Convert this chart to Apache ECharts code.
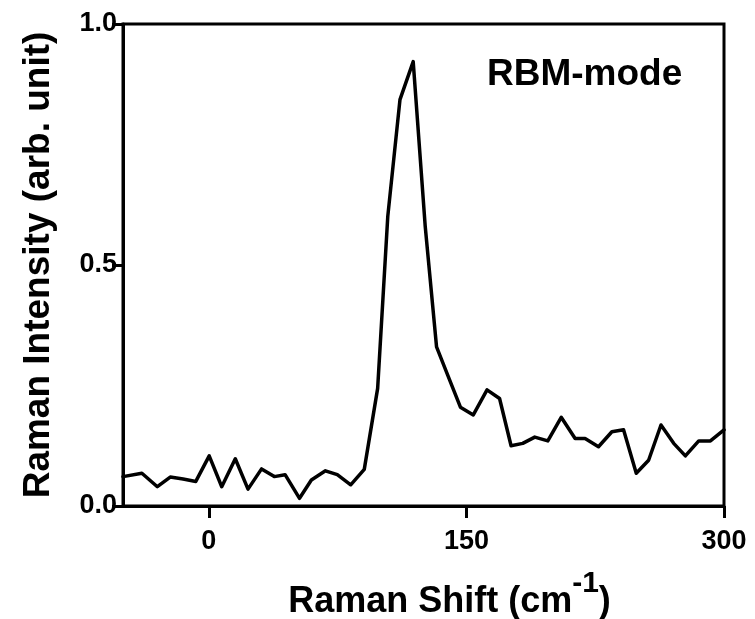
<!DOCTYPE html>
<html>
<head>
<meta charset="utf-8">
<script src="https://cdn.jsdelivr.net/npm/echarts@6/dist/echarts.min.js"></script>
<style>
  html, body { margin: 0; padding: 0; background: #fff; }
  #chart { width: 755px; height: 619px; }
</style>
</head>
<body>
<div id="chart"></div>
<script>
// Raman spectrum, radial breathing mode region
const ramanShift = [
  -50, -39, -30, -22.5, -15, -7.6, 0.2, 7.5, 15.4, 22.8, 30.7, 38.1, 44.4, 52.8,
  59.7, 67.9, 74.8, 82.6, 90.5, 98.3, 104.2, 111.3, 119, 126, 132.6, 139.5,
  146.5, 154, 162, 169.3, 176, 182.8, 189.8, 197.4, 205.2, 213.3, 219.1, 226.9,
  234.7, 241.5, 248.9, 256.1, 263.3, 270.7, 277.5, 285.3, 292.1, 300
];
const intensity = [
  0.061, 0.068, 0.040, 0.060, 0.056, 0.051, 0.104, 0.040, 0.098, 0.035, 0.077, 0.061, 0.065, 0.016,
  0.054, 0.073, 0.065, 0.044, 0.076, 0.244, 0.601, 0.843, 0.922, 0.58, 0.330, 0.268,
  0.205, 0.189, 0.241, 0.223, 0.125, 0.130, 0.143, 0.135, 0.184, 0.140, 0.140, 0.123,
  0.154, 0.158, 0.068, 0.095, 0.168, 0.130, 0.104, 0.135, 0.135, 0.158
];
const xTicks = [0, 150, 300];
const yTicks = [0, 0.5, 1.0];
const annotation = 'RBM-mode';

const FONT = '"Liberation Sans", Arial, sans-serif';
const points = ramanShift.map((x, i) => [x, intensity[i]]);

const chart = echarts.init(document.getElementById('chart'), null, { renderer: 'canvas' });
chart.setOption({
  animation: false,
  backgroundColor: '#fff',
  grid: {
    left: 123, right: 31, top: 24, bottom: 113,
    outerBoundsMode: 'none', containLabel: false,
    show: true, borderColor: '#000', borderWidth: 3, backgroundColor: 'transparent'
  },
  xAxis: {
    type: 'value', min: -50, max: 300,
    name: 'Raman Shift (cm{sup|-1})',
    nameLocation: 'middle', nameGap: 63,
    nameTextStyle: {
      fontFamily: FONT, fontWeight: 'bold', fontSize: 36, color: '#000',
      padding: [0, 0, 0, 52],
      rich: { sup: { fontFamily: FONT, fontWeight: 'bold', fontSize: 30, color: '#000', padding: [0, 0, 36, 0] } }
    },
    axisLine: { show: true, onZero: false, lineStyle: { color: '#000', width: 3 } },
    axisTick: { show: true, customValues: xTicks, length: 12, lineStyle: { color: '#000', width: 3 } },
    axisLabel: { customValues: xTicks, margin: 22, fontFamily: FONT, fontWeight: 'bold', fontSize: 27, color: '#000' },
    splitLine: { show: false }
  },
  yAxis: {
    type: 'value', min: 0, max: 1, interval: 0.5,
    name: 'Raman Intensity (arb. unit)',
    nameLocation: 'middle', nameGap: 66, nameRotate: 90,
    nameTextStyle: { fontFamily: FONT, fontWeight: 'bold', fontSize: 37, color: '#000' },
    axisLine: { show: true, onZero: false, lineStyle: { color: '#000', width: 3 } },
    axisTick: { show: true, customValues: yTicks, length: 11, lineStyle: { color: '#000', width: 3 } },
    axisLabel: {
      customValues: yTicks, margin: 6, fontFamily: FONT, fontWeight: 'bold', fontSize: 27, color: '#000',
      formatter: v => v.toFixed(1)
    },
    splitLine: { show: false }
  },
  graphic: [{
    type: 'text', left: 487, top: 56,
    style: { text: annotation, fontFamily: FONT, fontWeight: 'bold', fontSize: 37, fill: '#000' }
  }],
  series: [{
    type: 'line', data: points, showSymbol: false, smooth: false,
    lineStyle: { color: '#000', width: 3.5, join: 'round', cap: 'round' }
  }]
});
</script>
</body>
</html>
